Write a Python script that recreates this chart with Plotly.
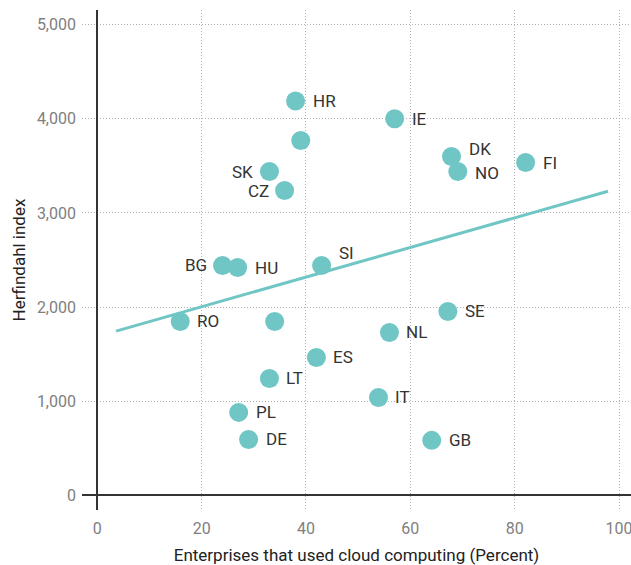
import plotly.graph_objects as go

countries = ["HR", "", "IE", "SK", "CZ", "DK", "NO", "FI", "BG", "HU", "SI",
             "RO", "", "SE", "NL", "ES", "LT", "IT", "PL", "DE", "GB"]
cloud_pct = [38.0, 39.0, 57.0, 33.0, 35.9, 67.9, 69.1, 82.1, 24.0, 26.9, 43.0,
             15.9, 34.0, 67.2, 56.0, 42.0, 33.0, 53.9, 27.1, 29.0, 64.1]
herfindahl = [4190, 3770, 4000, 3440, 3238, 3600, 3440, 3535, 2442, 2420, 2442,
              1847, 1847, 1953, 1730, 1465, 1242, 1040, 881, 594, 584]

trend_x = [3.6, 97.9]
trend_y = [1745, 3230]

x_ticks = [0, 20, 40, 60, 80, 100]
y_ticks = [0, 1000, 2000, 3000, 4000, 5000]

# label placement (style): side and vertical pixel shift
left_side = {"SK", "CZ", "BG"}
y_shift = {"DK": 7, "SI": 12, "NO": -1}

TEAL = "#6fc6c5"
FONT = "Roboto"

fig = go.Figure()
fig.add_trace(go.Scatter(x=trend_x, y=trend_y, mode="lines",
                         line=dict(color=TEAL, width=3), hoverinfo="skip"))
fig.add_trace(go.Scatter(x=cloud_pct, y=herfindahl, mode="markers",
                         marker=dict(color=TEAL, size=19, line=dict(width=0)),
                         text=countries))

for c, xv, yv in zip(countries, cloud_pct, herfindahl):
    if not c:
        continue
    left = c in left_side
    fig.add_annotation(x=xv, y=yv, text=c, showarrow=False,
                       xanchor="right" if left else "left",
                       xshift=-14 if left else 15,
                       yshift=y_shift.get(c, 0),
                       font=dict(family=FONT, size=17, color="#333333"))

fig.update_layout(
    width=631, height=565,
    margin=dict(l=82, r=0, t=10, b=55),
    plot_bgcolor="white", paper_bgcolor="white",
    showlegend=False,
    font=dict(family=FONT),
)
fig.update_xaxes(range=[-2.93, 102.3], tickvals=x_ticks, automargin=False,
                 ticklabeloverflow="allow",
                 showgrid=True, gridcolor="#b0b0b0", griddash="1px,2px", gridwidth=1,
                 zeroline=True, zerolinecolor="#333333", zerolinewidth=2,
                 showline=False, ticks="",
                 tickfont=dict(family=FONT, size=16, color="#808080"),
                 ticklabelstandoff=7,
                 title=dict(text="Enterprises that used cloud computing (Percent)",
                            font=dict(family=FONT, size=17, color="#222222"),
                            standoff=14))
fig.update_yaxes(range=[-156, 5156], tickvals=y_ticks, tickformat=",", automargin=False,
                 showgrid=True, gridcolor="#b0b0b0", griddash="1px,2px", gridwidth=1,
                 zeroline=True, zerolinecolor="#333333", zerolinewidth=2,
                 showline=False, ticks="",
                 tickfont=dict(family=FONT, size=16, color="#808080"),
                 ticklabelstandoff=5,
                 title=dict(text="Herfindahl index",
                            font=dict(family=FONT, size=17, color="#222222"),
                            standoff=6))

fig.write_html("out.html",
               config={"displayModeBar": False},
               post_script="document.body.style.margin='0';"
                           "document.body.style.overflow='hidden';")
